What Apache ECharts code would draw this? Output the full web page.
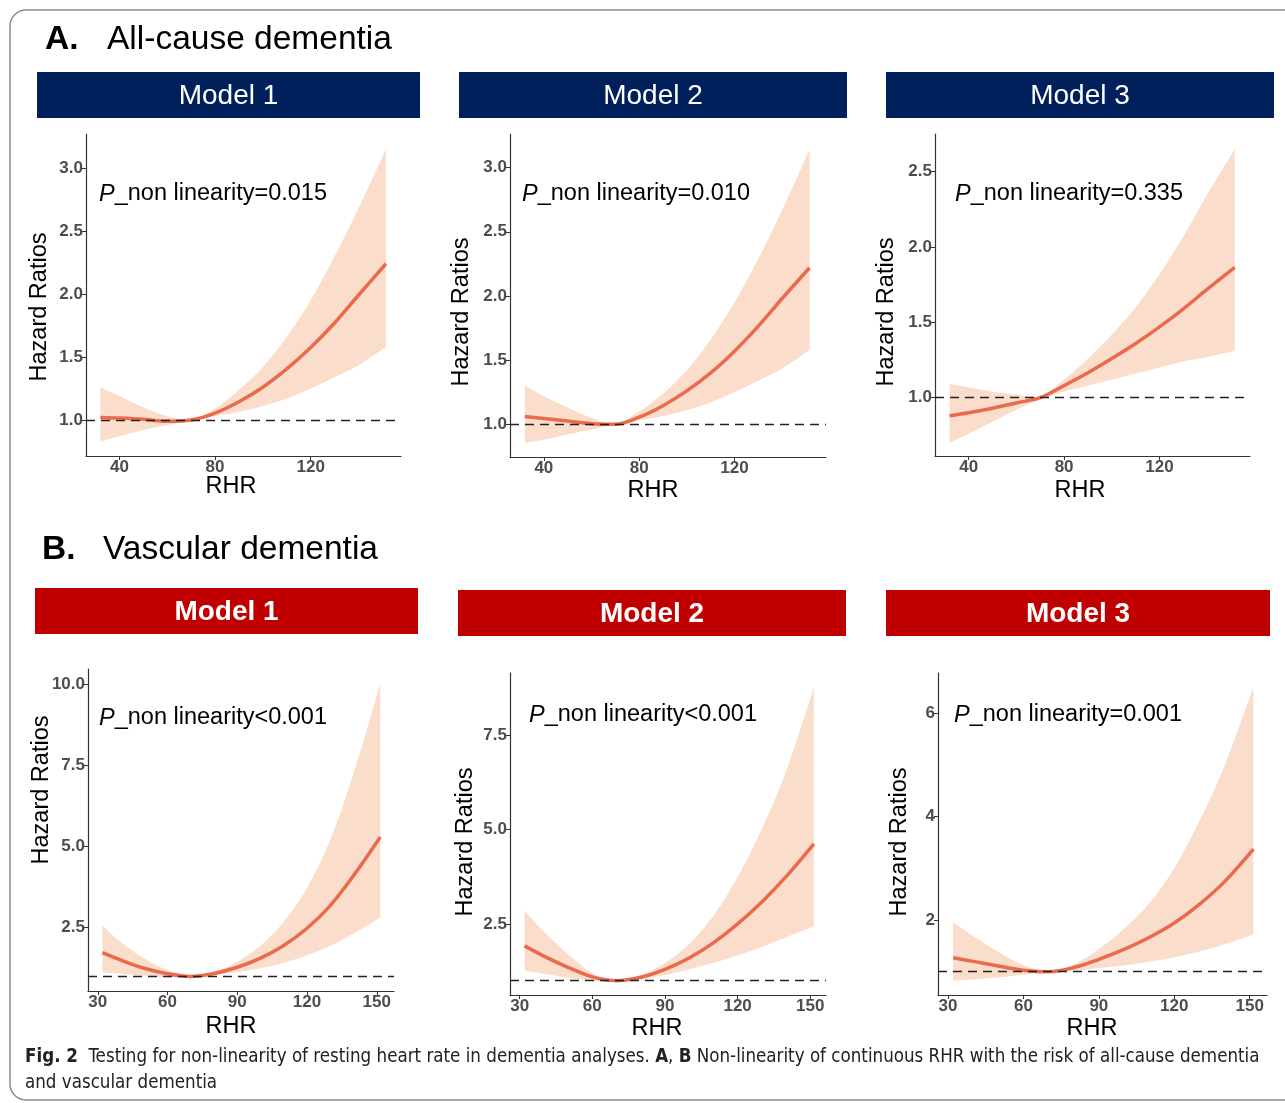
<!DOCTYPE html>
<html>
<head>
<meta charset="utf-8">
<script src="https://cdn.jsdelivr.net/npm/echarts@6/dist/echarts.min.js"></script>
<style>
html,body{margin:0;padding:0;background:#fff;}
#chart{width:1285px;height:1103px;}
</style>
</head>
<body>
<div id="chart"></div>
<script>
// ---------- data ----------
const rhr = [32, 40, 50, 60, 70, 80, 90, 100, 110, 120, 130, 140, 151.5];

// A. All-cause dementia
const a1Est = [1.02, 1.015, 1.005, 0.99, 1.00, 1.055, 1.145, 1.26, 1.405, 1.575, 1.77, 1.99, 2.24];
const a1Lo  = [0.83, 0.87, 0.92, 0.96, 0.995, 1.03, 1.065, 1.11, 1.17, 1.25, 1.34, 1.435, 1.58];
const a1Hi  = [1.26, 1.19, 1.10, 1.03, 1.005, 1.09, 1.24, 1.42, 1.66, 1.95, 2.30, 2.68, 3.15];

const a2Est = [1.06, 1.045, 1.025, 1.005, 1.00, 1.055, 1.145, 1.26, 1.40, 1.57, 1.765, 1.98, 2.22];
const a2Lo  = [0.855, 0.88, 0.92, 0.96, 0.995, 1.03, 1.065, 1.11, 1.17, 1.25, 1.34, 1.435, 1.58];
const a2Hi  = [1.30, 1.22, 1.13, 1.05, 1.005, 1.10, 1.24, 1.42, 1.66, 1.95, 2.29, 2.67, 3.14];

const a3Est = [0.88, 0.90, 0.93, 0.965, 1.00, 1.08, 1.165, 1.26, 1.36, 1.47, 1.59, 1.72, 1.865];
const a3Lo  = [0.70, 0.76, 0.84, 0.92, 0.99, 1.04, 1.08, 1.12, 1.16, 1.20, 1.24, 1.27, 1.31];
const a3Hi  = [1.09, 1.07, 1.04, 1.02, 1.01, 1.12, 1.26, 1.42, 1.60, 1.82, 2.07, 2.35, 2.65];

// B. Vascular dementia
const b1Est = [1.73, 1.50, 1.25, 1.08, 1.00, 1.09, 1.28, 1.56, 1.95, 2.48, 3.18, 4.10, 5.29];
const b1Lo  = [1.13, 1.08, 1.02, 0.97, 0.97, 1.04, 1.13, 1.25, 1.42, 1.65, 1.94, 2.32, 2.80];
const b1Hi  = [2.57, 2.05, 1.55, 1.20, 1.02, 1.14, 1.45, 1.95, 2.68, 3.73, 5.21, 7.25, 10.02];

const b2Est = [1.92, 1.65, 1.35, 1.10, 1.00, 1.09, 1.30, 1.60, 2.00, 2.50, 3.08, 3.75, 4.62];
const b2Lo  = [1.27, 1.18, 1.08, 1.00, 0.97, 1.03, 1.15, 1.30, 1.47, 1.67, 1.89, 2.15, 2.43];
const b2Hi  = [2.85, 2.30, 1.70, 1.20, 1.02, 1.15, 1.47, 1.97, 2.72, 3.74, 5.02, 6.54, 8.76];

const b3Est = [1.27, 1.20, 1.11, 1.03, 1.00, 1.08, 1.24, 1.43, 1.66, 1.94, 2.30, 2.74, 3.37];
const b3Lo  = [0.83, 0.85, 0.89, 0.94, 0.985, 1.02, 1.07, 1.12, 1.19, 1.28, 1.39, 1.53, 1.72];
const b3Hi  = [1.95, 1.69, 1.38, 1.13, 1.015, 1.14, 1.44, 1.83, 2.32, 3.00, 3.91, 4.98, 6.50];

const xTicksA = [40, 80, 120];
const xTicksB = [30, 60, 90, 120, 150];
const yTicksA12 = [1.0, 1.5, 2.0, 2.5, 3.0];
const yTicksA3 = [1.0, 1.5, 2.0, 2.5];
const yTicksB1 = [2.5, 5.0, 7.5, 10.0];
const yTicksB2 = [2.5, 5.0, 7.5];
const yTicksB3 = [2, 4, 6];

const pTexts = ['=0.015', '=0.010', '=0.335'];
const pTextsB = ['<0.001', '<0.001', '=0.001'];
const modelNames = ['Model 1', 'Model 2', 'Model 3'];

// ---------- layout ----------
const panels = [
  {est:a1Est, lo:a1Lo, hi:a1Hi, grid:{left:86, top:134, width:315, height:322}, x:[26,157.8], y:[0.714,3.27], xt:xTicksA, yt:yTicksA12, dec:1,
   p:pTexts[0], px:99, py:194, yt2:[40,307], xt2:[231,487]},
  {est:a2Est, lo:a2Lo, hi:a2Hi, grid:{left:510, top:134, width:316, height:323}, x:[25.8,158.4], y:[0.745,3.262], xt:xTicksA, yt:yTicksA12, dec:1,
   p:pTexts[1], px:522, py:194, yt2:[462,312], xt2:[653,491]},
  {est:a3Est, lo:a3Lo, hi:a3Hi, grid:{left:935, top:134, width:315, height:322}, x:[25.9,157.9], y:[0.613,2.75], xt:xTicksA, yt:yTicksA3, dec:1,
   p:pTexts[2], px:955, py:194, yt2:[887,312], xt2:[1080,491]},
  {est:b1Est, lo:b1Lo, hi:b1Hi, grid:{left:88, top:669, width:306, height:322}, x:[25.8,157.4], y:[0.55,10.46], xt:xTicksB, yt:yTicksB1, dec:1,
   p:pTextsB[0], px:99, py:718, yt2:[42,790], xt2:[231,1027]},
  {est:b2Est, lo:b2Lo, hi:b2Hi, grid:{left:510, top:673, width:316, height:322}, x:[26,156.5], y:[0.62,9.14], xt:xTicksB, yt:yTicksB2, dec:1,
   p:pTextsB[1], px:529, py:715, yt2:[466,842], xt2:[657,1029]},
  {est:b3Est, lo:b3Lo, hi:b3Hi, grid:{left:938, top:673, width:329, height:322}, x:[26,156.9], y:[0.55,6.77], xt:xTicksB, yt:yTicksB3, dec:0,
   p:pTextsB[2], px:954, py:715, yt2:[900,842], xt2:[1092,1029]}
];

const FONT = '"Liberation Sans", Arial, Helvetica, sans-serif';
const LINE = '#EA6A4C';
const BAND = '#FBDDCC';

// Catmull-Rom spline through pixel points (rendering only)
function spline(pts, seg) {
  const out = [];
  const n = pts.length;
  for (let i = 0; i < n - 1; i++) {
    const p0 = pts[Math.max(i - 1, 0)], p1 = pts[i], p2 = pts[i + 1], p3 = pts[Math.min(i + 2, n - 1)];
    for (let s = 0; s < seg; s++) {
      const t = s / seg, t2 = t * t, t3 = t2 * t;
      const f = (a, b, c, d) => 0.5 * ((2 * b) + (-a + c) * t + (2 * a - 5 * b + 4 * c - d) * t2 + (-a + 3 * b - 3 * c + d) * t3);
      out.push([f(p0[0], p1[0], p2[0], p3[0]), f(p0[1], p1[1], p2[1], p3[1])]);
    }
  }
  out.push(pts[n - 1]);
  return out;
}

const grids = [], xAxes = [], yAxes = [], series = [];
panels.forEach((p, i) => {
  grids.push(Object.assign({containLabel:false}, p.grid));
  xAxes.push({
    type:'value', gridIndex:i, min:p.x[0], max:p.x[1],
    axisLine:{show:true, onZero:false, lineStyle:{color:'#333', width:1.2}},
    axisTick:{show:true, length:4, lineStyle:{color:'#333'}, customValues:p.xt},
    axisLabel:{show:true, customValues:p.xt, color:'#4d4d4d', fontSize:17, fontWeight:'bold', fontFamily:FONT, margin:3},
    splitLine:{show:false}
  });
  yAxes.push({
    type:'value', gridIndex:i, min:p.y[0], max:p.y[1],
    axisLine:{show:true, onZero:false, lineStyle:{color:'#333', width:1.2}},
    axisTick:{show:true, length:4, lineStyle:{color:'#333'}, customValues:p.yt},
    axisLabel:{show:true, customValues:p.yt, color:'#4d4d4d', fontSize:17, fontWeight:'bold', fontFamily:FONT, margin:3,
      formatter: v => Number(v).toFixed(p.dec)},
    splitLine:{show:false}
  });
  const bandData = rhr.map((x, k) => [x, p.lo[k], p.hi[k]]);
  const estData = rhr.map((x, k) => [x, p.est[k]]);
  series.push({
    type:'custom', xAxisIndex:i, yAxisIndex:i, data:bandData, encode:{x:0, y:[1, 2]}, silent:true, z:1,
    renderItem: (params, api) => {
      if (params.dataIndex !== 0) return null;
      const up = bandData.map(d => api.coord([d[0], d[2]]));
      const dn = bandData.map(d => api.coord([d[0], d[1]]));
      const pts = spline(up, 10).concat(spline(dn, 10).reverse());
      return {type:'polygon', shape:{points:pts}, style:{fill:BAND, stroke:null}};
    }
  });
  series.push({
    type:'line', xAxisIndex:i, yAxisIndex:i, data:estData, smooth:0.35,
    symbol:'none', lineStyle:{color:LINE, width:3.5}, z:3,
    markLine:{silent:true, symbol:'none', label:{show:false},
      lineStyle:{type:[9,6], color:'#222', width:1.3}, data:[{yAxis:1}]}
  });
});

// ---------- graphic elements ----------
const graphic = [];
graphic.push({type:'rect', shape:{x:10, y:10, width:1300, height:1090, r:16},
  style:{fill:'none', stroke:'#8a8a8a', lineWidth:1.5}, z:0});

graphic.push({type:'text', style:{text:'A.', x:45, y:40, font:'bold 33.5px ' + FONT, fill:'#000', textVerticalAlign:'middle'}});
graphic.push({type:'text', style:{text:'All-cause dementia', x:107, y:40, font:'33.5px ' + FONT, fill:'#000', textVerticalAlign:'middle'}});
graphic.push({type:'text', style:{text:'B.', x:42, y:550, font:'bold 33.5px ' + FONT, fill:'#000', textVerticalAlign:'middle'}});
graphic.push({type:'text', style:{text:'Vascular dementia', x:103, y:550, font:'33.5px ' + FONT, fill:'#000', textVerticalAlign:'middle'}});

const hdrA = [[37,72,383,46],[459,72,388,46],[886,72,388,46]];
const hdrB = [[35,588,383,46],[458,590,388,46],[886,590,384,46]];
hdrA.forEach((r, i) => {
  graphic.push({type:'rect', shape:{x:r[0], y:r[1], width:r[2], height:r[3]}, style:{fill:'#00205C'}});
  graphic.push({type:'text', style:{text:modelNames[i], x:r[0]+r[2]/2, y:r[1]+r[3]/2+1, font:'28px ' + FONT, fill:'#fff', textAlign:'center', textVerticalAlign:'middle'}});
});
hdrB.forEach((r, i) => {
  graphic.push({type:'rect', shape:{x:r[0], y:r[1], width:r[2], height:r[3]}, style:{fill:'#C00000'}});
  graphic.push({type:'text', style:{text:modelNames[i], x:r[0]+r[2]/2, y:r[1]+r[3]/2+1, font:'bold 28px ' + FONT, fill:'#fff', textAlign:'center', textVerticalAlign:'middle'}});
});

panels.forEach(p => {
  graphic.push({type:'text', z:10, style:{
    text:'{i|P}{n|_non linearity' + p.p + '}', x:p.px, y:p.py, textVerticalAlign:'middle',
    rich:{i:{fontStyle:'italic', fontSize:23.5, fontFamily:FONT, fill:'#000'},
          n:{fontSize:23.5, fontFamily:FONT, fill:'#000'}}
  }});
  graphic.push({type:'text', rotation:Math.PI/2, x:p.yt2[0], y:p.yt2[1], style:{
    text:'Hazard Ratios', x:0, y:0, font:'23.5px ' + FONT, fill:'#000', textAlign:'center', textVerticalAlign:'middle'}});
  graphic.push({type:'text', style:{text:'RHR', x:p.xt2[0], y:p.xt2[1], font:'23.5px ' + FONT, fill:'#000', textAlign:'center', textVerticalAlign:'middle'}});
});

const CAP = '"DejaVu Sans Condensed", "Liberation Sans Narrow", "Liberation Sans", sans-serif';
graphic.push({type:'text', style:{
  text:'{b|Fig. 2}  Testing for non-linearity of resting heart rate in dementia analyses. {b|A}, {b|B} Non-linearity of continuous RHR with the risk of all-cause dementia',
  x:25, y:1057, textVerticalAlign:'middle',
  rich:{b:{fontWeight:'bold', fontSize:18.6, fontFamily:CAP, fill:'#222'}},
  font:'18.6px ' + CAP, fill:'#222'}});
graphic.push({type:'text', style:{text:'and vascular dementia', x:25, y:1083, textVerticalAlign:'middle', font:'18.6px ' + CAP, fill:'#222'}});

const chart = echarts.init(document.getElementById('chart'), null, {renderer:'canvas'});
chart.setOption({
  animation:false,
  backgroundColor:'#fff',
  grid:grids, xAxis:xAxes, yAxis:yAxes, series:series, graphic:graphic
});
</script>
</body>
</html>
